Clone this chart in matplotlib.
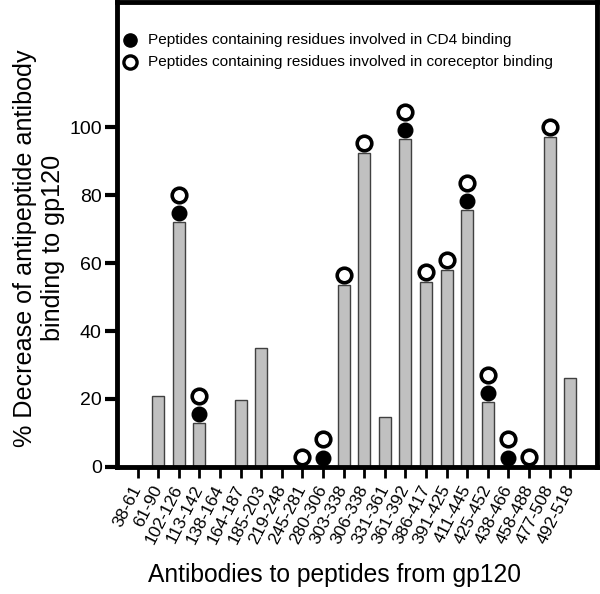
import matplotlib
matplotlib.use("Agg")
import matplotlib.pyplot as plt
import numpy as np

plt.rcParams['font.family'] = ['Liberation Sans', 'DejaVu Sans']

peptides = ["38-61", "61-90", "102-126", "113-142", "138-164", "164-187", "185-203",
            "219-248", "245-281", "280-306", "303-338", "306-338", "331-361", "361-392",
            "386-417", "391-425", "411-445", "425-452", "438-466", "458-488", "477-508",
            "492-518"]
decrease = [0, 21, 72, 12.9, 0, 19.8, 34.9, 0, 0, 0, 53.5, 92.5, 14.6, 96.5,
            54.5, 58, 75.6, 19, 0, 0, 97.1, 26.1]
# 1 = peptide has residues involved in that kind of binding
cd4 = [0, 0, 1, 1, 0, 0, 0, 0, 0, 1, 0, 0, 0, 1, 0, 0, 1, 1, 1, 0, 0, 0]
corec = [0, 0, 1, 1, 0, 0, 0, 0, 1, 1, 1, 1, 0, 1, 1, 1, 1, 1, 1, 1, 1, 0]

fig = plt.figure(figsize=(6, 5.94), dpi=100)
ax = fig.add_axes([0.195, 0.214, 0.8, 0.783])

x = np.arange(len(peptides))
ax.bar(x, decrease, width=0.58, color="#c0c0c0", edgecolor="#404040", linewidth=1, zorder=2)

msize = 10.5
for i in x:
    top = decrease[i]
    if cd4[i]:
        ax.plot(i, top + 2.7, "o", ms=msize, color="black", zorder=3, clip_on=False)
        if corec[i]:
            ax.plot(i, top + 8.1, "o", ms=msize, mfc="white", mec="black", mew=2.6, zorder=3, clip_on=False)
    elif corec[i]:
        ax.plot(i, top + 3.0, "o", ms=msize, mfc="white", mec="black", mew=2.6, zorder=3, clip_on=False)

# legend
ax.plot(0.027, 0.918, "o", ms=9.5, color="black", transform=ax.transAxes, clip_on=False)
ax.plot(0.027, 0.871, "o", ms=9.5, mfc="white", mec="black", mew=2.4, transform=ax.transAxes, clip_on=False)
ax.text(0.065, 0.918, "Peptides containing residues involved in CD4 binding",
        transform=ax.transAxes, va="center", fontsize=11.1)
ax.text(0.065, 0.871, "Peptides containing residues involved in coreceptor binding",
        transform=ax.transAxes, va="center", fontsize=11.1)

ax.set_xlim(-1, 22.3)
ax.set_ylim(0, 137)
ax.set_yticks([0, 20, 40, 60, 80, 100])
ax.set_xticks(x)
ax.set_xticklabels(peptides, rotation=63, ha="right", va="center", rotation_mode="anchor", fontsize=12.5)
ax.tick_params(axis="y", direction="out", length=9, width=3, labelsize=14, pad=2)
ax.tick_params(axis="x", direction="out", length=8, width=2, pad=6)
for s in ax.spines.values():
    s.set_linewidth(3.5)

ax.set_ylabel("% Decrease of antipeptide antibody\nbinding to gp120", fontsize=18.1)
ax.yaxis.set_label_coords(-0.108, 0.471)
ax.set_xlabel("Antibodies to peptides from gp120", fontsize=17.7, va="center")
ax.xaxis.set_label_coords(0.453, -0.232)

fig.savefig("out.png", dpi=100)
